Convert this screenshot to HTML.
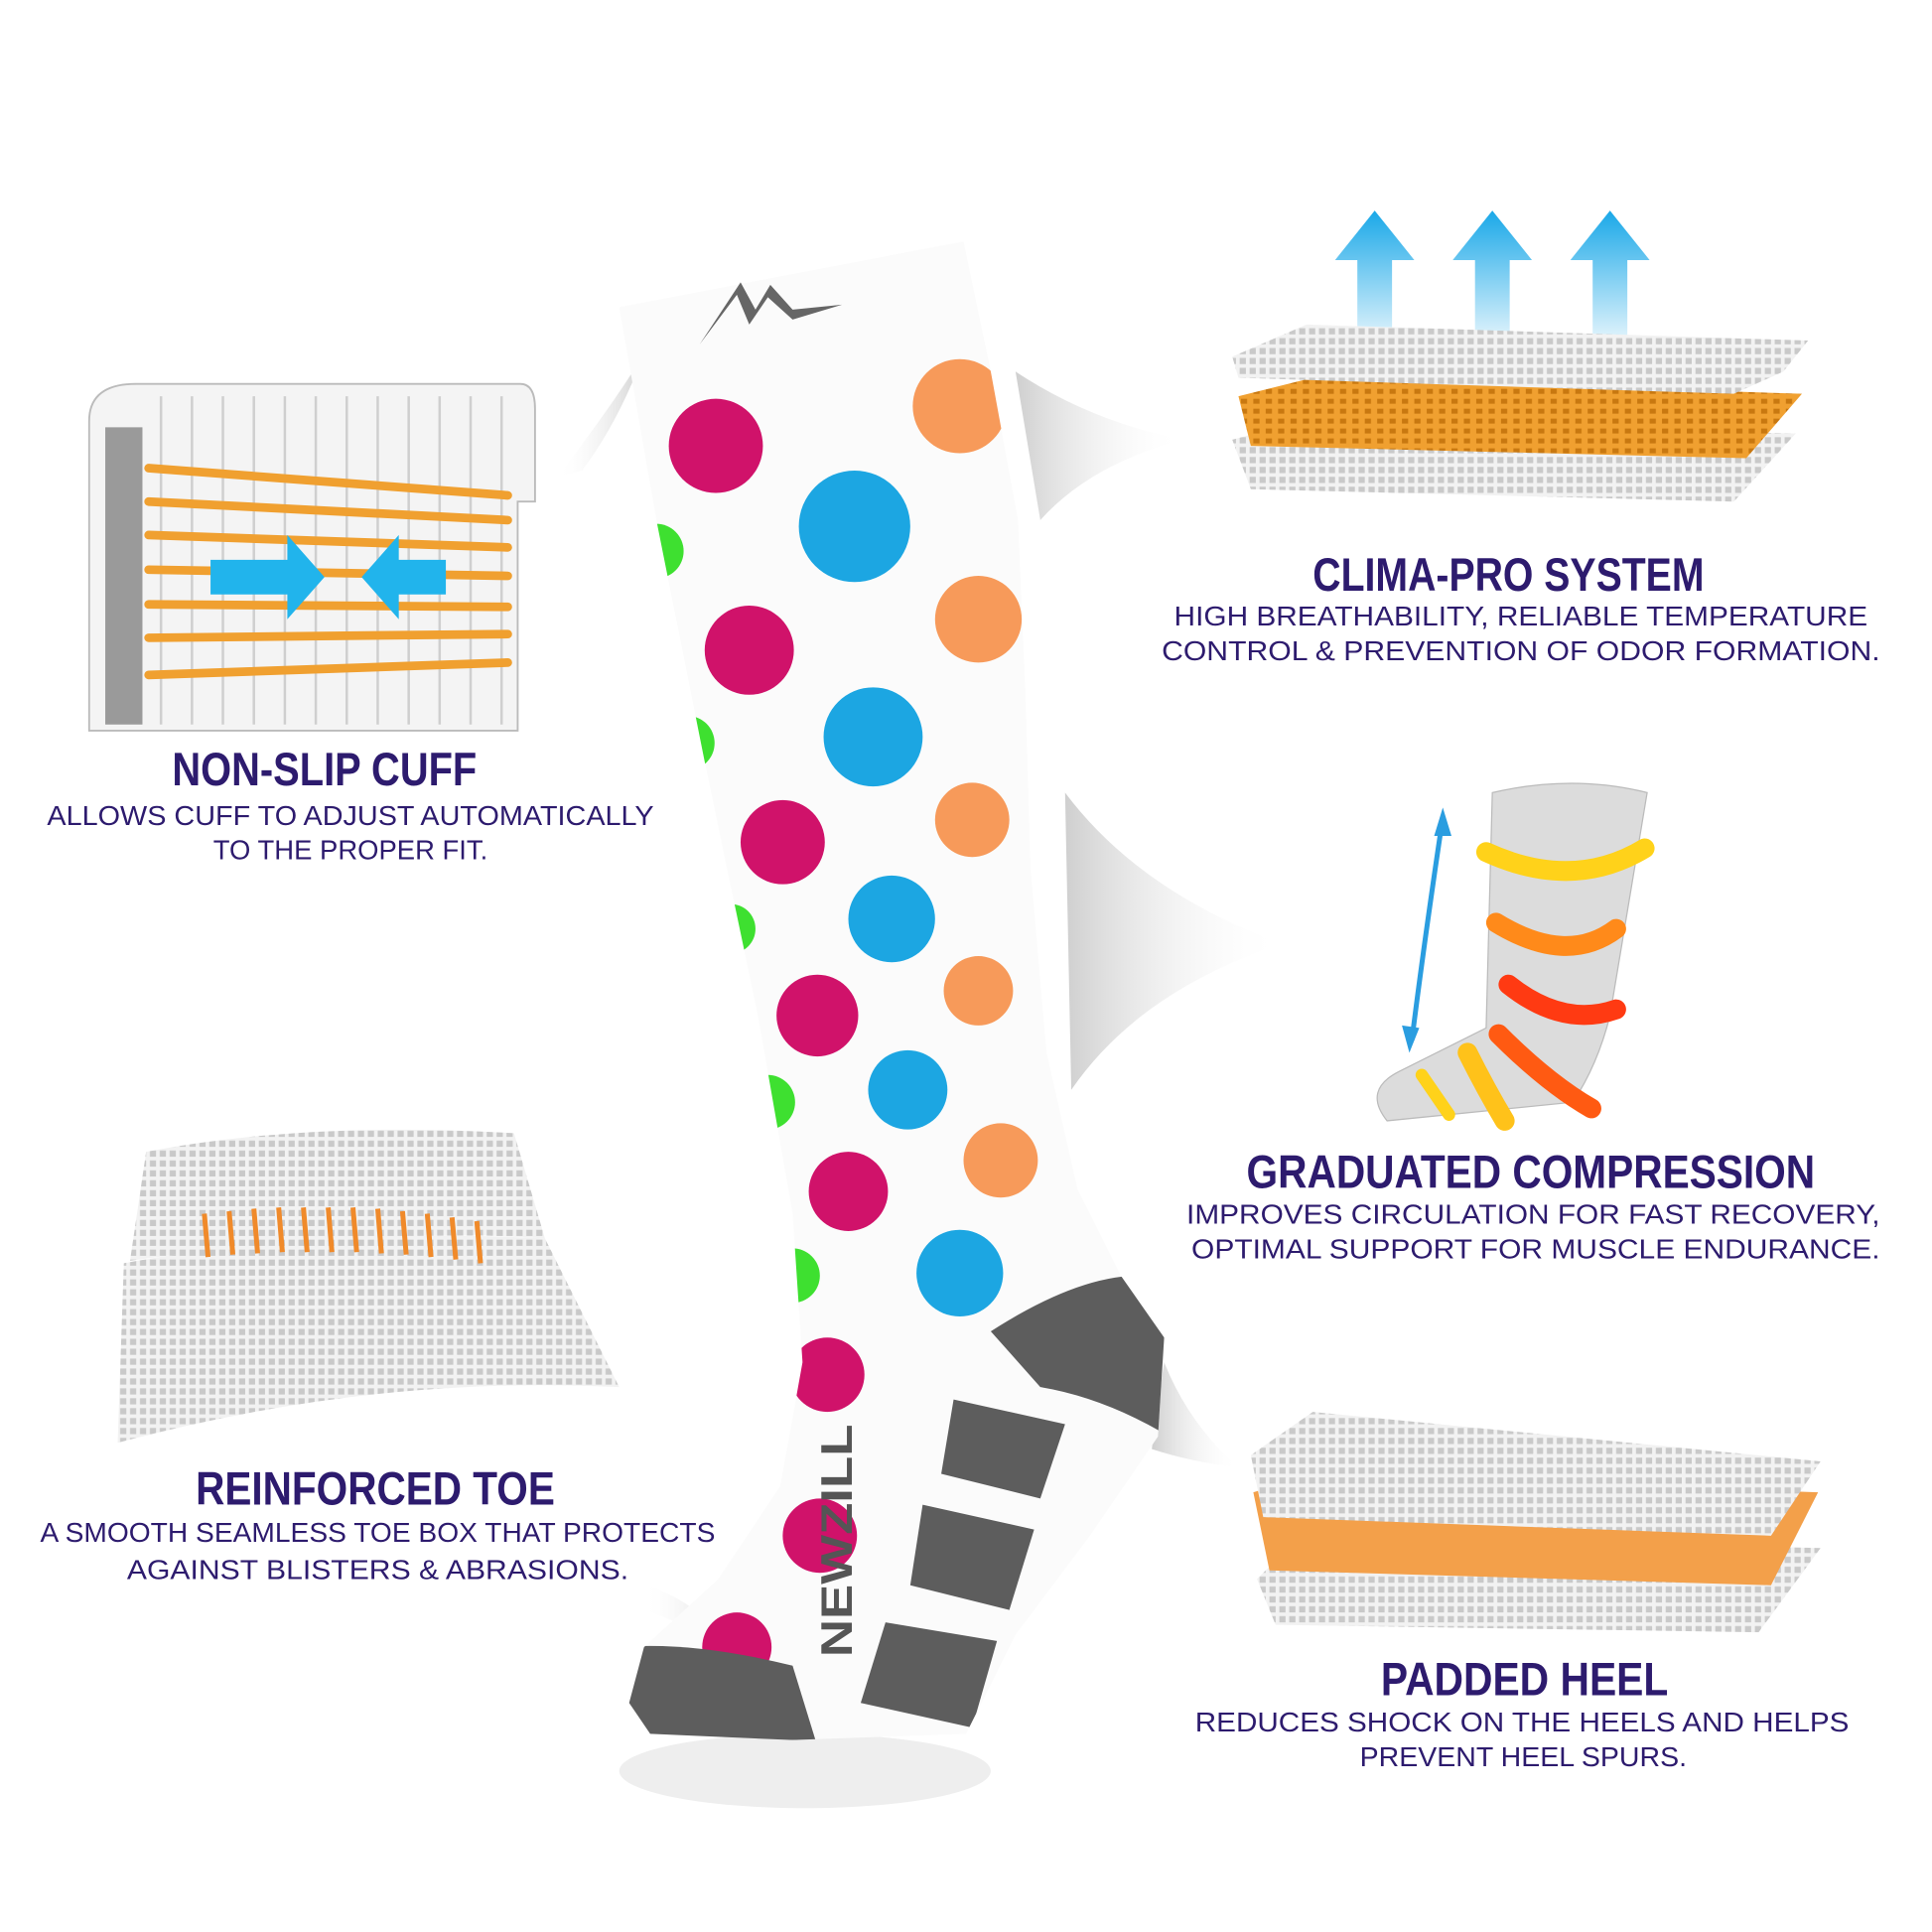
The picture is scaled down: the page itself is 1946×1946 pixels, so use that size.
<!DOCTYPE html>
<html><head><meta charset="utf-8"><style>
html,body{margin:0;padding:0;background:#fff;}
svg{display:block;}
.t{font-family:"Liberation Sans Narrow","Liberation Sans",sans-serif;font-weight:bold;fill:#2d1b6e;}
.s{font-family:"Liberation Sans",sans-serif;fill:#2d1b6e;}
</style></head><body>
<svg width="1946" height="1946" viewBox="0 0 1560 1560" xmlns="http://www.w3.org/2000/svg">
<defs>
<linearGradient id="sw" x1="0" x2="1"><stop offset="0" stop-color="#cfcfcf"/><stop offset="1" stop-color="#fff" stop-opacity="0"/></linearGradient>
<linearGradient id="swl" x1="1" x2="0"><stop offset="0" stop-color="#cfcfcf"/><stop offset="1" stop-color="#fff" stop-opacity="0"/></linearGradient>
<linearGradient id="blue" x1="0" y1="0" x2="0" y2="1"><stop offset="0" stop-color="#1aa8e8"/><stop offset="1" stop-color="#1aa8e8" stop-opacity="0"/></linearGradient>
<pattern id="mesh" width="8" height="8" patternUnits="userSpaceOnUse"><rect width="8" height="8" fill="#f2f2f2"/><rect x="1" y="1" width="5" height="5" fill="#c9c9c9"/></pattern>
<pattern id="omesh" width="10" height="8" patternUnits="userSpaceOnUse"><rect width="10" height="8" fill="#f0a030"/><rect x="2" y="2" width="5" height="4" fill="#c87810"/></pattern>
<clipPath id="sock"><path d="M500,248 L778,195 L800,300 L822,420 L828,560 L832,700 L845,850 L870,960 L905,1030 L940,1080 L935,1160 L880,1240 L820,1320 L780,1400 L640,1405 L525,1400 L508,1375 L520,1330 L580,1275 L630,1200 L648,1100 L640,980 L612,820 L570,620 L530,420 Z"/></clipPath>
</defs>
<rect width="1560" height="1560" fill="#fff"/>
<path d="M450,385 Q500,320 520,285 Q500,340 470,380 Z" fill="url(#swl)"/>
<path d="M820,300 Q880,340 955,355 Q880,375 840,420 Z" fill="url(#sw)"/>
<path d="M860,640 Q920,720 1035,762 Q920,800 865,880 Z" fill="url(#sw)"/>
<path d="M940,1100 Q960,1150 1000,1185 Q960,1180 930,1170 Z" fill="url(#sw)"/>
<path d="M520,1280 Q560,1290 590,1330 Q550,1310 520,1300 Z" fill="url(#swl)"/>
<ellipse cx="650" cy="1430" rx="150" ry="30" fill="#eee"/>
<g clip-path="url(#sock)">
<rect x="480" y="180" width="480" height="1240" fill="#fbfbfb"/>
<g fill="#d0126a">
<circle cx="578" cy="360" r="38"/><circle cx="605" cy="525" r="36"/><circle cx="632" cy="680" r="34"/><circle cx="660" cy="820" r="33"/><circle cx="685" cy="962" r="32"/><circle cx="668" cy="1110" r="30"/><circle cx="662" cy="1240" r="30"/><circle cx="595" cy="1330" r="28"/></g>
<g fill="#1ca6e2">
<circle cx="690" cy="425" r="45"/><circle cx="705" cy="595" r="40"/><circle cx="720" cy="742" r="35"/><circle cx="733" cy="880" r="32"/><circle cx="775" cy="1028" r="35"/></g>
<g fill="#f79a5a">
<circle cx="775" cy="328" r="38"/><circle cx="790" cy="500" r="35"/><circle cx="785" cy="662" r="30"/><circle cx="790" cy="800" r="28"/><circle cx="808" cy="937" r="30"/></g>
<g fill="#3ee030">
<circle cx="530" cy="445" r="22"/><circle cx="555" cy="600" r="22"/><circle cx="590" cy="750" r="20"/><circle cx="620" cy="890" r="22"/><circle cx="640" cy="1030" r="22"/></g>
<path d="M800,1075 Q870,1030 920,1030 L960,1040 L960,1170 Q900,1130 840,1120 Z" fill="#5d5d5d"/>
<g fill="#5d5d5d">
<path d="M770,1130 L860,1150 L840,1210 L760,1190 Z"/>
<path d="M745,1215 L835,1235 L815,1300 L735,1280 Z"/>
<path d="M715,1310 L805,1325 L785,1395 L695,1375 Z"/>
<path d="M500,1330 Q560,1325 640,1345 L660,1410 L500,1410 Z"/></g>
<text x="0" y="0" transform="translate(688,1338) rotate(-90)" font-family="Liberation Sans" font-weight="bold" font-size="36" fill="#555" textLength="188" lengthAdjust="spacingAndGlyphs">NEWZILL</text>
</g>
<path d="M565,278 L595,238 L605,262 L620,240 L640,258 L680,246 L640,250 L622,230 L610,250 L598,228 Z" fill="#666"/>
<path d="M72,590 L72,340 Q72,310 110,310 L420,310 Q432,310 432,330 L432,405 L418,405 L418,590 Z" fill="#f4f4f4" stroke="#bbb" stroke-width="1.5"/>
<g stroke="#cfcfcf" stroke-width="2">
<line x1="130" y1="320" x2="130" y2="585"/><line x1="155" y1="320" x2="155" y2="585"/><line x1="180" y1="320" x2="180" y2="585"/><line x1="205" y1="320" x2="205" y2="585"/><line x1="230" y1="320" x2="230" y2="585"/><line x1="255" y1="320" x2="255" y2="585"/><line x1="280" y1="320" x2="280" y2="585"/><line x1="305" y1="320" x2="305" y2="585"/><line x1="330" y1="320" x2="330" y2="585"/><line x1="355" y1="320" x2="355" y2="585"/><line x1="380" y1="320" x2="380" y2="585"/><line x1="405" y1="320" x2="405" y2="585"/></g>
<rect x="85" y="345" width="30" height="240" fill="#9a9a9a"/>
<g stroke="#f0a030" stroke-width="7" fill="none" stroke-linecap="round">
<path d="M120,378 L410,400"/><path d="M120,405 L410,420"/><path d="M120,432 L410,442"/><path d="M120,460 L410,465"/><path d="M120,488 L410,490"/><path d="M120,515 L410,512"/><path d="M120,545 L410,535"/></g>
<path d="M170,452 L232,452 L232,432 L262,466 L232,500 L232,480 L170,480 Z" fill="#21b4ec"/>
<path d="M360,452 L322,452 L322,432 L292,466 L322,500 L322,480 L360,480 Z" fill="#21b4ec"/>
<g fill="url(#blue)">
<path d="M1110,170 L1142,210 L1124,210 L1124,290 L1096,290 L1096,210 L1078,210 Z"/>
<path d="M1205,170 L1237,210 L1219,210 L1219,290 L1191,290 L1191,210 L1173,210 Z"/>
<path d="M1300,170 L1332,210 L1314,210 L1314,290 L1286,290 L1286,210 L1268,210 Z"/></g>
<path d="M995,355 L1050,340 L1450,350 L1400,405 L1010,395 Z" fill="url(#mesh)"/>
<path d="M1000,320 L1060,305 L1455,318 L1410,370 L1010,360 Z" fill="url(#omesh)"/>
<path d="M995,288 L1055,262 L1460,275 L1440,300 L1400,318 L1000,305 Z" fill="url(#mesh)"/>
<path d="M1205,640 Q1270,625 1330,640 L1300,820 Q1290,860 1270,890 L1120,905 Q1100,880 1130,865 L1200,830 Z" fill="#dcdcdc" stroke="#bbb"/>
<g fill="none" stroke-width="16" stroke-linecap="round">
<path d="M1200,688 Q1270,720 1328,685" stroke="#ffd21a"/>
<path d="M1208,745 Q1265,780 1305,750" stroke="#ff8a1a"/>
<path d="M1218,795 Q1262,830 1305,815" stroke="#ff3a12"/>
<path d="M1210,835 Q1250,875 1285,895" stroke="#ff5a12"/>
<path d="M1185,850 Q1200,880 1215,905" stroke="#ffc21a"/>
<path d="M1148,868 L1170,900" stroke="#ffd21a" stroke-width="10"/></g>
<path d="M1165,660 Q1150,760 1140,840" fill="none" stroke="#2a9de0" stroke-width="4"/>
<path d="M1165,652 L1158,675 L1172,675 Z M1138,850 L1132,828 L1146,830 Z" fill="#2a9de0"/>
<path d="M118,930 Q250,905 415,915 L440,1000 Q300,990 105,1018 Z" fill="url(#mesh)"/>
<path d="M100,1020 Q260,990 440,1000 L500,1120 Q300,1110 95,1165 Z" fill="url(#mesh)"/>
<g stroke="#f08a2a" stroke-width="4">
<line x1="165" y1="980" x2="168" y2="1015"/><line x1="185" y1="978" x2="188" y2="1013"/><line x1="205" y1="976" x2="208" y2="1012"/><line x1="225" y1="975" x2="228" y2="1011"/><line x1="245" y1="975" x2="248" y2="1011"/><line x1="265" y1="975" x2="268" y2="1011"/><line x1="285" y1="975" x2="288" y2="1011"/><line x1="305" y1="976" x2="308" y2="1012"/><line x1="325" y1="978" x2="328" y2="1013"/><line x1="345" y1="980" x2="348" y2="1015"/><line x1="365" y1="983" x2="368" y2="1017"/><line x1="385" y1="986" x2="388" y2="1020"/></g>
<path d="M1015,1275 L1050,1240 L1470,1250 L1420,1318 L1030,1312 Z" fill="url(#mesh)"/>
<path d="M1012,1205 L1060,1190 L1468,1205 L1430,1280 L1025,1268 Z" fill="#f3a04a"/>
<path d="M1010,1175 L1060,1140 L1470,1180 L1430,1240 L1020,1225 Z" fill="url(#mesh)"/>
<text class="t" x="262" y="634" font-size="38" text-anchor="middle" textLength="246" lengthAdjust="spacingAndGlyphs">NON-SLIP CUFF</text>
<text class="s" x="283" y="666" font-size="22" text-anchor="middle" textLength="490" lengthAdjust="spacingAndGlyphs">ALLOWS CUFF TO ADJUST AUTOMATICALLY</text>
<text class="s" x="283" y="694" font-size="22" text-anchor="middle">TO THE PROPER FIT.</text>
<text class="t" x="1218" y="477" font-size="38" text-anchor="middle" textLength="316" lengthAdjust="spacingAndGlyphs">CLIMA-PRO SYSTEM</text>
<text class="s" x="1228" y="505" font-size="22" text-anchor="middle" textLength="560" lengthAdjust="spacingAndGlyphs">HIGH BREATHABILITY, RELIABLE TEMPERATURE</text>
<text class="s" x="1228" y="533" font-size="22" text-anchor="middle" textLength="580" lengthAdjust="spacingAndGlyphs">CONTROL &amp; PREVENTION OF ODOR FORMATION.</text>
<text class="t" x="1236" y="959" font-size="38" text-anchor="middle" textLength="459" lengthAdjust="spacingAndGlyphs">GRADUATED COMPRESSION</text>
<text class="s" x="1238" y="988" font-size="22" text-anchor="middle" textLength="560" lengthAdjust="spacingAndGlyphs">IMPROVES CIRCULATION FOR FAST RECOVERY,</text>
<text class="s" x="1240" y="1016" font-size="22" text-anchor="middle" textLength="556" lengthAdjust="spacingAndGlyphs">OPTIMAL SUPPORT FOR MUSCLE ENDURANCE.</text>
<text class="t" x="303" y="1215" font-size="38" text-anchor="middle" textLength="290" lengthAdjust="spacingAndGlyphs">REINFORCED TOE</text>
<text class="s" x="305" y="1245" font-size="22" text-anchor="middle" textLength="545" lengthAdjust="spacingAndGlyphs">A SMOOTH SEAMLESS TOE BOX THAT PROTECTS</text>
<text class="s" x="305" y="1275" font-size="22" text-anchor="middle" textLength="405" lengthAdjust="spacingAndGlyphs">AGAINST BLISTERS &amp; ABRASIONS.</text>
<text class="t" x="1231" y="1369" font-size="38" text-anchor="middle" textLength="232" lengthAdjust="spacingAndGlyphs">PADDED HEEL</text>
<text class="s" x="1229" y="1398" font-size="22" text-anchor="middle" textLength="528" lengthAdjust="spacingAndGlyphs">REDUCES SHOCK ON THE HEELS AND HELPS</text>
<text class="s" x="1230" y="1426" font-size="22" text-anchor="middle" textLength="264" lengthAdjust="spacingAndGlyphs">PREVENT HEEL SPURS.</text>
</svg>
</body></html>
